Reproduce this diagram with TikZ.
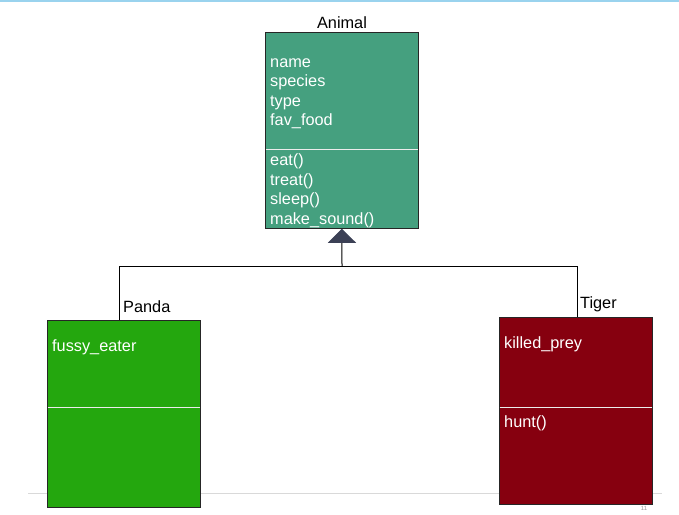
\documentclass[tikz,border=0pt]{standalone}
\usepackage{fontspec}
\setmainfont{Liberation Sans}
\usetikzlibrary{arrows.meta,positioning}
\definecolor{animalc}{HTML}{45A07F}
\definecolor{pandac}{HTML}{24A70E}
\definecolor{tigerc}{HTML}{86000F}
\definecolor{topline}{HTML}{9AD3EE}
\definecolor{tipc}{HTML}{3B4055}
\tikzset{
  classbox/.style={draw=black!85, line width=0.8pt, minimum width=153pt, inner sep=0pt, anchor=north west},
  divider/.style={draw=white!85!gray, line width=1pt},
  member/.style={text=white, font=\fontsize{16.3}{19.5}\selectfont, anchor=base west, inner sep=0pt},
  title/.style={text=black, font=\fontsize{16.3}{19}\selectfont, inner sep=0pt, anchor=base west},
  link/.style={draw=black, line width=1pt},
}
\begin{document}
\begin{tikzpicture}[x=1pt,y=-1pt]
\useasboundingbox (0,0) rectangle (679,514);
\fill[white] (0,0) rectangle (679,514);
\draw[topline, line width=1.5pt] (0,0.75) -- (679,0.75);
\draw[black!15, line width=0.8pt] (28,493) -- (662,493);
% Animal
\node[classbox, fill=animalc, minimum height=196pt] (animal) at (265,32) {};
\draw[divider] (265.5,149) -- (417.5,149);
\node[title, anchor=base] (animalt) at (342,28) {Animal};
\node[member] (a1) at (270,67) {name};
\node[member] (a2) at (270,86.5) {species};
\node[member] (a3) at (270,106) {type};
\node[member] (a4) at (270,125.5) {fav\_food};
\node[member] (o1) at (270,165.5) {eat()};
\node[member] (o2) at (270,185) {treat()};
\node[member] (o3) at (270,204.5) {sleep()};
\node[member] (o4) at (270,224) {make\_sound()};
% Panda
\node[classbox, fill=pandac, minimum height=187pt] (panda) at (47,320) {};
\draw[divider] (47.5,407) -- (199.5,407);
\node[title] (pandat) at (123,312) {Panda};
\node[member] (p1) at (52,351) {fussy\_eater};
% Tiger
\node[classbox, fill=tigerc, minimum height=187pt] (tiger) at (499,317) {};
\draw[divider] (499.5,407) -- (651.5,407);
\node[title] (tigert) at (580,308.5) {Tiger};
\node[member] (t1) at (504,348) {killed\_prey};
\node[member] (t2) at (504,427) {hunt()};
% connectors
\coordinate (pandatop) at (119,320);
\coordinate (tigertop) at (577,317);
\coordinate (junction) at (342,266);
\draw[link] (pandatop) -- (pandatop |- junction) -- (tigertop |- junction) -- (tigertop);
\draw[link, -{Triangle[width=28pt,length=14pt,fill=tipc,color=tipc]}] (junction) -- (animal.south);
\node[text=black!40, font=\fontsize{6}{7}\selectfont, inner sep=0pt] (pageno) at (644,508) {11};
\end{tikzpicture}
\end{document}
